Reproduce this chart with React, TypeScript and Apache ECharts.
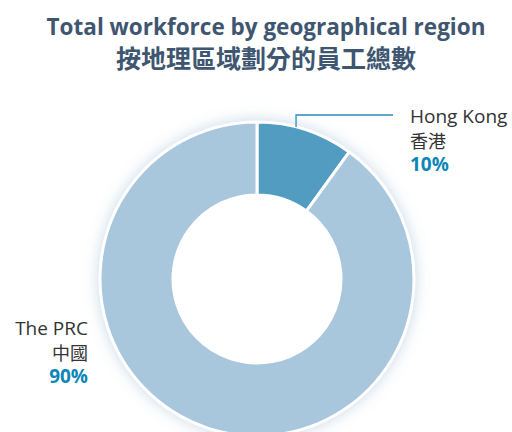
import React, { useEffect, useRef } from "react";
import * as echarts from "echarts";

const titleEn = "Total workforce by geographical region";
const titleZh = "按地理區域劃分的員工總數";
const namesEn = ["Hong Kong", "The PRC"];
const namesZh = ["香港", "中國"];
const values = [10, 90];
const sliceColors = ["#529cc2", "#a9c7dc"];

export default function App() {
  const ref = useRef<HTMLDivElement>(null);
  useEffect(() => {
    if (!ref.current) return;
    const chart = echarts.init(ref.current, null, { renderer: "svg" });
    const cx = 257;
    const cy = 279;
    const rOut = 157;
    const rIn = 84;
    const total = values.reduce((a, b) => a + b, 0);
    const ang = ((values[0] / total) * 0.4) * 2 * Math.PI;
    const ax = cx + rOut * Math.sin(ang);
    const ay = cy - rOut * Math.cos(ang);
    const font = "'Open Sans', 'Noto Sans CJK TC', sans-serif";
    const cjk = "'Noto Sans CJK TC', 'Open Sans', sans-serif";
    chart.setOption({
      animation: false,
      graphic: [
        {
          type: "text",
          x: 266,
          y: 26,
          style: {
            text: titleEn,
            fontFamily: font,
            fontSize: 22.5,
            fontWeight: "bold",
            fill: "#3e5670",
            align: "center",
            verticalAlign: "middle",
          },
        },
        {
          type: "text",
          x: 266,
          y: 57,
          style: {
            text: titleZh,
            fontFamily: cjk,
            fontSize: 25,
            fontWeight: "bold",
            fill: "#3e5670",
            align: "center",
            verticalAlign: "middle",
          },
        },
        {
          type: "polyline",
          shape: { points: [[ax, ay], [ax, 115], [393, 115]] },
          style: { stroke: "#2a8bbd", lineWidth: 1.3, fill: "none" },
          z: 10,
        },
      ],
      series: [
        {
          type: "pie",
          silent: true,
          center: [cx, cy],
          radius: [0, rOut],
          z: 1,
          label: { show: false },
          labelLine: { show: false },
          itemStyle: {
            color: "#ffffff",
            shadowBlur: 16,
            shadowColor: "rgba(90,140,185,0.4)",
          },
          data: [{ name: "", value: total }],
        },
        {
          type: "pie",
          center: [cx, cy],
          radius: [rIn, rOut],
          startAngle: 90,
          clockwise: true,
          z: 2,
          avoidLabelOverlap: false,
          itemStyle: {
            borderColor: "#ffffff",
            borderWidth: 3,
          },
          emphasis: { disabled: true },
          label: {
            show: true,
            position: "outside",
            formatter: (p: any) => `{n|${namesEn[p.dataIndex]}}\n{z|${namesZh[p.dataIndex]}}\n{p|${p.value}%}`,
            rich: {
              n: { fontFamily: font, fontSize: 19, color: "#333333", lineHeight: 24 },
              z: { fontFamily: cjk, fontSize: 18, color: "#333333", lineHeight: 24 },
              p: { fontFamily: font, fontSize: 19, fontWeight: "bold", color: "#0b86b8", lineHeight: 24 },
            },
          },
          labelLine: { show: false },
          labelLayout: (p: any) =>
            p.dataIndex === 0
              ? { x: 410, y: 140, align: "left", verticalAlign: "middle" }
              : { x: 88, y: 352, align: "right", verticalAlign: "middle" },
          data: values.map((v, i) => ({ name: namesEn[i], value: v, itemStyle: { color: sliceColors[i] } })),
        },
      ],
    });
    return () => chart.dispose();
  }, []);
  return <div ref={ref} style={{ position: "absolute", left: 0, top: 0, width: 512, height: 432 }} />;
}
